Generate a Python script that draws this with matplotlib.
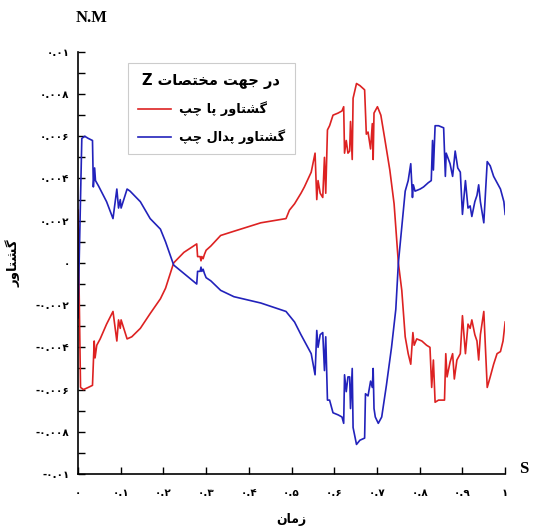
import numpy as np
import matplotlib.pyplot as plt
from matplotlib.ticker import MultipleLocator, FuncFormatter

# ============================================================
# DATA  (time in s, torque in N.m)
# ============================================================

# left foot torque (red)
time_foot = [
    0.000, 0.006, 0.013, 0.024, 0.034, 0.038, 0.040, 0.044, 0.052, 0.067,
    0.082, 0.091, 0.095, 0.099, 0.101, 0.115, 0.126, 0.146, 0.169, 0.193,
    0.205, 0.224, 0.248, 0.278, 0.280, 0.286, 0.288, 0.290, 0.293, 0.296,
    0.300, 0.311, 0.334, 0.365, 0.428, 0.487, 0.495, 0.507, 0.522, 0.530,
    0.546, 0.555, 0.559, 0.562, 0.567, 0.573, 0.577, 0.580, 0.584, 0.589,
    0.597, 0.609, 0.618, 0.622, 0.624, 0.628, 0.632, 0.636, 0.638, 0.642,
    0.644, 0.652, 0.660, 0.671, 0.675, 0.679, 0.685, 0.689, 0.691, 0.693,
    0.701, 0.709, 0.718, 0.730, 0.740, 0.750, 0.758, 0.766, 0.773, 0.779,
    0.784, 0.787, 0.793, 0.805, 0.816, 0.824, 0.828, 0.832, 0.836, 0.844,
    0.858, 0.861, 0.864, 0.871, 0.877, 0.881, 0.887, 0.895, 0.900, 0.907,
    0.913, 0.918, 0.922, 0.929, 0.934, 0.938, 0.942, 0.950, 0.958, 0.965,
    0.973, 0.981, 0.989, 0.995, 1.000,
]
torque_foot = [
    0.0025, -0.0059, -0.0060, -0.0059, -0.0058, -0.0037, -0.0045, -0.0039, -0.0036, -0.0029,
    -0.0023, -0.0037, -0.0027, -0.0031, -0.0027, -0.0036, -0.0035, -0.0031, -0.0024, -0.0017,
    -0.0012, 0.0000, 0.0005, 0.0009, 0.0003, 0.0003, 0.0001, 0.0003, 0.0002, 0.0004,
    0.0006, 0.0008, 0.0013, 0.0015, 0.0019, 0.0021, 0.0025, 0.0028, 0.0033, 0.0036,
    0.0043, 0.0052, 0.0030, 0.0039, 0.0033, 0.0031, 0.0050, 0.0033, 0.0063, 0.0065,
    0.0070, 0.0071, 0.0072, 0.0074, 0.0052, 0.0058, 0.0052, 0.0053, 0.0067, 0.0049,
    0.0078, 0.0085, 0.0084, 0.0082, 0.0061, 0.0062, 0.0054, 0.0066, 0.0049, 0.0071,
    0.0074, 0.0070, 0.0059, 0.0044, 0.0028, 0.0000, -0.0013, -0.0035, -0.0043, -0.0048,
    -0.0033, -0.0039, -0.0036, -0.0037, -0.0039, -0.0040, -0.0059, -0.0046, -0.0066, -0.0065,
    -0.0065, -0.0043, -0.0054, -0.0047, -0.0043, -0.0055, -0.0046, -0.0043, -0.0025, -0.0043,
    -0.0029, -0.0031, -0.0027, -0.0034, -0.0037, -0.0046, -0.0034, -0.0023, -0.0059, -0.0054,
    -0.0048, -0.0043, -0.0042, -0.0037, -0.0028,
]

# left pedal torque (blue)
time_pedal = [
    0.000, 0.009, 0.016, 0.024, 0.034, 0.036, 0.039, 0.041, 0.048, 0.067,
    0.082, 0.091, 0.095, 0.099, 0.101, 0.115, 0.122, 0.146, 0.169, 0.193,
    0.205, 0.224, 0.248, 0.278, 0.280, 0.286, 0.288, 0.290, 0.293, 0.296,
    0.300, 0.311, 0.334, 0.365, 0.428, 0.487, 0.495, 0.507, 0.522, 0.530,
    0.546, 0.555, 0.559, 0.562, 0.567, 0.573, 0.577, 0.580, 0.584, 0.589,
    0.597, 0.609, 0.618, 0.622, 0.624, 0.628, 0.632, 0.636, 0.638, 0.642,
    0.644, 0.652, 0.660, 0.671, 0.673, 0.679, 0.685, 0.689, 0.691, 0.693,
    0.696, 0.703, 0.711, 0.722, 0.734, 0.744, 0.750, 0.758, 0.766, 0.773,
    0.779, 0.783, 0.785, 0.789, 0.801, 0.809, 0.820, 0.827, 0.830, 0.832,
    0.836, 0.844, 0.856, 0.860, 0.862, 0.871, 0.877, 0.883, 0.889, 0.895,
    0.900, 0.907, 0.913, 0.918, 0.922, 0.929, 0.934, 0.938, 0.942, 0.950,
    0.958, 0.965, 0.973, 0.981, 0.989, 0.997, 1.000,
]
torque_pedal = [
    -0.0026, 0.0059, 0.0060, 0.0059, 0.0058, 0.0036, 0.0045, 0.0039, 0.00365, 0.0029,
    0.0021, 0.0035, 0.0026, 0.0030, 0.0026, 0.0035, 0.0034, 0.0029, 0.0021, 0.0016,
    0.0010, -0.0001, -0.0005, -0.0010, -0.0004, -0.0004, -0.0002, -0.0004, -0.0003, -0.0005,
    -0.0007, -0.00085, -0.0013, -0.0016, -0.0019, -0.0023, -0.0025, -0.0028, -0.0034, -0.0037,
    -0.0043, -0.0053, -0.0032, -0.0040, -0.0034, -0.0033, -0.0051, -0.0035, -0.0065, -0.0065,
    -0.0071, -0.0072, -0.0073, -0.0076, -0.0053, -0.0061, -0.0054, -0.0054, -0.0069, -0.0050,
    -0.0078, -0.0086, -0.0084, -0.0083, -0.0062, -0.0063, -0.0056, -0.0059, -0.0050, -0.0069,
    -0.0073, -0.0076, -0.0073, -0.0058, -0.0040, -0.0022, 0.0000, 0.0017, 0.0034, 0.0039,
    0.0047, 0.0031, 0.0037, 0.0034, 0.0035, 0.0036, 0.0038, 0.0039, 0.0058, 0.0044,
    0.0065, 0.0065, 0.0064, 0.0041, 0.0052, 0.0047, 0.0041, 0.0053, 0.0045, 0.0043,
    0.0023, 0.0039, 0.0026, 0.0027, 0.0022, 0.0029, 0.0032, 0.0037, 0.0029, 0.0019,
    0.0048, 0.0046, 0.0041, 0.0038, 0.0035, 0.0029, 0.0023,
]

# ============================================================
# PERSIAN TEXT HELPERS  (no RTL shaping in matplotlib)
# ============================================================

# isolated, final, initial, medial
FORMS = {
    'ا': ('\uFE8D', '\uFE8E', None, None),
    'د': ('\uFEA9', '\uFEAA', None, None),
    'ر': ('\uFEAD', '\uFEAE', None, None),
    'ز': ('\uFEAF', '\uFEB0', None, None),
    'و': ('\uFEED', '\uFEEE', None, None),
    'ت': ('\uFE95', '\uFE96', '\uFE97', '\uFE98'),
    'ج': ('\uFE9D', '\uFE9E', '\uFE9F', '\uFEA0'),
    'خ': ('\uFEA5', '\uFEA6', '\uFEA7', '\uFEA8'),
    'ش': ('\uFEB5', '\uFEB6', '\uFEB7', '\uFEB8'),
    'ص': ('\uFEB9', '\uFEBA', '\uFEBB', '\uFEBC'),
    'ل': ('\uFEDD', '\uFEDE', '\uFEDF', '\uFEE0'),
    'م': ('\uFEE1', '\uFEE2', '\uFEE3', '\uFEE4'),
    'ن': ('\uFEE5', '\uFEE6', '\uFEE7', '\uFEE8'),
    'ه': ('\uFEE9', '\uFEEA', '\uFEEB', '\uFEEC'),
    'پ': ('\uFB56', '\uFB57', '\uFB58', '\uFB59'),
    'چ': ('\uFB7A', '\uFB7B', '\uFB7C', '\uFB7D'),
    'گ': ('\uFB92', '\uFB93', '\uFB94', '\uFB95'),
}


def fa(text):
    out = []
    for i, ch in enumerate(text):
        if ch not in FORMS:
            out.append(ch)
            continue
        prev_joins = i > 0 and text[i - 1] in FORMS and FORMS[text[i - 1]][2] is not None
        next_joins = (i < len(text) - 1 and text[i + 1] in FORMS
                      and FORMS[ch][2] is not None)
        iso, fin, ini, med = FORMS[ch]
        if prev_joins and next_joins:
            out.append(med)
        elif prev_joins:
            out.append(fin)
        elif next_joins:
            out.append(ini)
        else:
            out.append(iso)
    return ''.join(reversed(out))


FA_DIGITS = str.maketrans('0123456789', '۰۱۲۳۴۵۶۷۸۹')


def fa_num(v, pos):
    v = round(v, 4)
    if v == 0:
        v = 0.0
    return f"{v:g}".translate(FA_DIGITS)


# ============================================================
# PLOT
# ============================================================

plt.rcParams['font.family'] = ['DejaVu Sans']

fig = plt.figure(figsize=(5.34, 5.29), dpi=100)
ax = fig.add_axes([0.146, 0.104, 0.800, 0.798])

ax.plot(time_foot, torque_foot, color='#dd2222', linewidth=1.2,
        label=fa('گشتاور پا چپ'))
ax.plot(time_pedal, torque_pedal, color='#2222bb', linewidth=1.2,
        label=fa('گشتاور پدال چپ'))

ax.set_xlim(0, 1)
ax.set_ylim(-0.01, 0.01)

ax.spines['top'].set_visible(False)
ax.spines['right'].set_visible(False)
ax.spines['left'].set_linewidth(1.2)
ax.spines['bottom'].set_linewidth(1.2)

ax.xaxis.set_major_locator(MultipleLocator(0.1))
ax.yaxis.set_major_locator(MultipleLocator(0.002))
ax.yaxis.set_minor_locator(MultipleLocator(0.001))
ax.xaxis.set_major_formatter(FuncFormatter(fa_num))
ax.yaxis.set_major_formatter(FuncFormatter(fa_num))

ax.tick_params(which='both', direction='in', length=5, width=1.0)
ax.tick_params(axis='x', pad=10, labelsize=7.5)
ax.tick_params(axis='y', pad=6, labelsize=7.5)
for lab in ax.get_xticklabels() + ax.get_yticklabels():
    lab.set_fontweight('bold')

ax.set_xlabel(fa('زمان'), fontsize=9, fontweight='bold', labelpad=11)
ax.set_ylabel(fa('گشتاور'), fontsize=9.5, fontweight='bold', labelpad=11)

fig.text(92 / 534, 1 - 18 / 529, 'N.M', family='Liberation Serif',
         fontweight='bold', fontsize=12, ha='center', va='center')
fig.text(524 / 534, 1 - 469 / 529, 'S', family='Liberation Serif',
         fontweight='bold', fontsize=12, ha='center', va='center')

leg = ax.legend(loc='upper left', bbox_to_anchor=(128 / 534, 1 - 63 / 529),
                bbox_transform=fig.transFigure, borderaxespad=0,
                fancybox=False, edgecolor='#cccccc', framealpha=1,
                handlelength=2.6, handletextpad=0.6,
                borderpad=0.75, labelspacing=1.0,
                prop={'size': 9.3, 'weight': 'bold'},
                title=fa('در جهت مختصات Z'),
                title_fontproperties={'size': 10.5, 'weight': 'bold'})
leg.get_frame().set_linewidth(0.8)

fig.savefig('out.png', dpi=100)
